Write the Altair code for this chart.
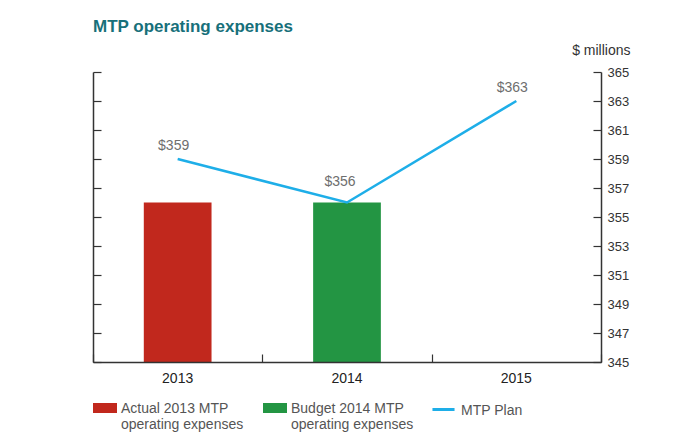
import altair as alt
import pandas as pd

# ---- data ----
years = ["2013", "2014", "2015"]
bar_years = ["2013", "2014"]
bar_series = ["Actual 2013 MTP\noperating expenses", "Budget 2014 MTP\noperating expenses"]
bar_values = [356, 356]
plan_series = "MTP Plan"
plan_values = [359, 356, 363]
plan_labels = ["$359", "$356", "$363"]
y_ticks = [345, 347, 349, 351, 353, 355, 357, 359, 361, 363, 365]
y_domain = [345, 365]
chart_title = "MTP operating expenses"
unit_label = "$ millions"

bars_df = pd.DataFrame({"year": bar_years, "series": bar_series, "value": bar_values})
plan_df = pd.DataFrame({
    "year": years,
    "series": [plan_series] * len(years),
    "value": plan_values,
    "label": plan_labels,
})

FONT = "Liberation Sans"
AXIS_COLOR = "#333333"
RED, GREEN, BLUE = "#c1281d", "#239543", "#1eaee8"
W, H = 508, 290

x_scale = alt.Scale(domain=years, paddingInner=0, paddingOuter=0)
y_scale = alt.Scale(domain=y_domain, zero=False, nice=False)

# bottom axis: labels + baseline
x_axis_labels = alt.Axis(
    orient="bottom", title=None, labelAngle=0, labelFontSize=14, labelColor="#222222",
    labelFont=FONT, labelPadding=9, ticks=False, tickSize=0, grid=False,
    domainColor=AXIS_COLOR, domainWidth=1.5, zindex=1,
)
# inward ticks at the band boundaries on the baseline
x_axis_ticks = alt.Axis(
    orient="top", offset=-H, title=None, labels=False, domain=False, grid=False,
    tickBand="extent", tickSize=8, tickColor=AXIS_COLOR, tickWidth=1.2,
)
# right axis: labels + title + line
y_axis_labels = alt.Axis(
    orient="right", values=y_ticks, grid=False, ticks=False, tickSize=0,
    title=unit_label, titleAngle=0, titleAlign="right", titleBaseline="alphabetic",
    titleX=29, titleY=-18, titleFontSize=14, titleFontWeight="normal",
    titleColor=AXIS_COLOR, titleFont=FONT,
    labelFontSize=13, labelColor=AXIS_COLOR, labelFont=FONT, labelPadding=6,
    domainColor=AXIS_COLOR, domainWidth=1.5,
)
# inward ticks on the right edge
y_axis_right_ticks = alt.Axis(
    orient="left", offset=-W, values=y_ticks, grid=False, title=None, labels=False,
    domain=False, tickSize=8, tickColor=AXIS_COLOR, tickWidth=1.2,
)
# left edge line with inward ticks
y_axis_left_ticks = alt.Axis(
    orient="right", offset=-W, values=y_ticks, grid=False, title=None, labels=False,
    tickSize=8, tickColor=AXIS_COLOR, tickWidth=1.2, domainColor=AXIS_COLOR, domainWidth=1.5,
)

legend_common = dict(
    title=None, orient="none", direction="horizontal", padding=0,
    labelFontSize=14, labelColor="#555555", labelFont=FONT, labelBaseline="top",
    labelLimit=300, labelOffset=4, symbolSize=576,
)

bar_legend = alt.Legend(
    legendX=0, legendY=318,
    symbolType="M-1,0.083H1V0.917H-1Z", symbolStrokeWidth=0,
    labelExpr="split(datum.label, '\\n')", columnPadding=19, gridAlign="all",
    **legend_common,
)
line_legend = alt.Legend(
    legendX=337, legendY=318,
    symbolType="M-0.92,0.5H0.92", symbolStrokeWidth=3, symbolFillColor="transparent",
    **legend_common,
)

bars = alt.Chart(bars_df).mark_bar(width=alt.RelativeBandSize(0.4)).encode(
    x=alt.X("year:N", scale=x_scale, axis=x_axis_labels),
    y=alt.Y("value:Q", scale=y_scale, axis=y_axis_labels),
    y2=alt.datum(y_domain[0]),
    color=alt.Color("series:N", scale=alt.Scale(domain=bar_series, range=[RED, GREEN]),
                    legend=bar_legend),
)

line = alt.Chart(plan_df).mark_line(strokeWidth=2.5).encode(
    x=alt.X("year:N", scale=x_scale, axis=x_axis_ticks),
    y=alt.Y("value:Q", scale=y_scale, axis=y_axis_right_ticks),
    stroke=alt.Stroke("series:N", scale=alt.Scale(domain=[plan_series], range=[BLUE]),
                      legend=line_legend),
)

text_main = alt.Chart(plan_df).transform_filter(
    "datum.year != '2014'"
).mark_text(dx=-4, dy=-9, baseline="alphabetic", fontSize=14, font=FONT, color="#6e6e6e").encode(
    x=alt.X("year:N", scale=x_scale, axis=None),
    y=alt.Y("value:Q", scale=y_scale, axis=y_axis_left_ticks),
    text="label:N",
)
text_mid = alt.Chart(plan_df).transform_filter(
    "datum.year == '2014'"
).mark_text(dx=-7, dy=-17, baseline="alphabetic", fontSize=14, font=FONT, color="#6e6e6e").encode(
    x=alt.X("year:N", scale=x_scale, axis=None),
    y=alt.Y("value:Q", scale=y_scale, axis=None),
    text="label:N",
)

chart = alt.layer(bars, line, text_main, text_mid).resolve_axis(
    x="independent", y="independent"
).properties(
    width=W, height=H,
    padding={"left": 93, "top": 72, "right": 88, "bottom": 78},
    autosize=alt.AutoSizeParams(type="none"),
    title=alt.TitleParams(chart_title, anchor="start", fontSize=17, fontWeight="bold",
                          color="#17707a", font=FONT, offset=7, frame="group"),
).configure_view(stroke=None)

chart.save("out.html", embed_options={"renderer": "svg", "actions": False})
